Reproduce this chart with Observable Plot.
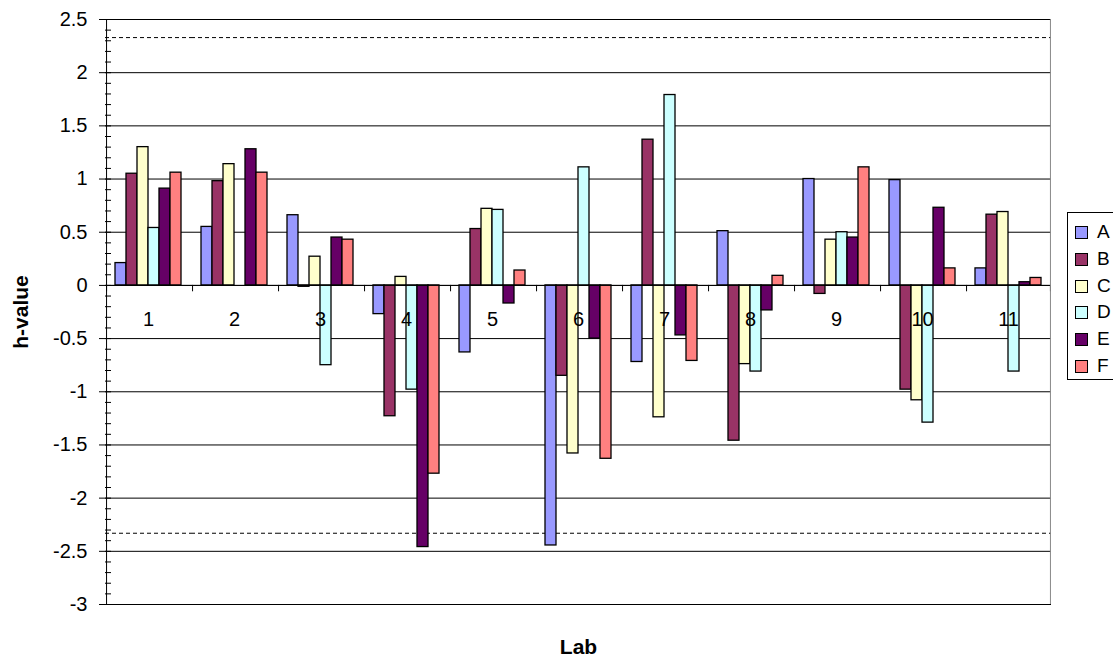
<!DOCTYPE html>
<html>
<head>
<meta charset="utf-8">
<script src="https://cdn.jsdelivr.net/npm/d3@7"></script>
<script src="https://cdn.jsdelivr.net/npm/@observablehq/plot@0.6"></script>
<style>
  html, body { margin: 0; padding: 0; background: #fff; }
  body { font-family: "Liberation Sans", Arial, sans-serif; }
  #wrap { position: relative; width: 1113px; height: 656px; overflow: hidden; }
  #legend { position: absolute; left: 1067px; top: 212px; width: 70px; height: 168px;
            border: 1px solid #000; background: #fff; box-sizing: border-box; }
  .item { position: absolute; left: 7px; height: 22px; display: flex; align-items: center;
          font-size: 19px; color: #000; }
  .sw { width: 11px; height: 11px; border: 1px solid #000; margin-right: 9px; box-sizing: content-box; }
  svg [aria-label="y-axis label"], svg [aria-label="fx-axis label"] { font-weight: bold; font-size: 21px; }
</style>
</head>
<body>
<div id="wrap"></div>
<script>
// ---- data ----
const labs = [1, 2, 3, 4, 5, 6, 7, 8, 9, 10, 11];
const series = ["A", "B", "C", "D", "E", "F"];
const colors = ["#9999FF", "#993366", "#FFFFCC", "#CCFFFF", "#660066", "#FF8080"];
const valuesA = [0.21, 0.55, 0.66, -0.27, -0.63, -2.445, -0.72, 0.51, 1.00, 0.99, 0.16];
const valuesB = [1.05, 0.98, -0.013, -1.23, 0.53, -0.85, 1.37, -1.46, -0.08, -0.98, 0.665];
const valuesC = [1.30, 1.14, 0.27, 0.08, 0.72, -1.58, -1.24, -0.74, 0.43, -1.08, 0.69];
const valuesD = [0.54, null, -0.75, -0.98, 0.71, 1.11, 1.79, -0.81, 0.50, -1.29, -0.81];
const valuesE = [0.91, 1.28, 0.45, -2.46, -0.17, -0.50, -0.47, -0.235, 0.45, 0.73, 0.03];
const valuesF = [1.06, 1.06, 0.43, -1.77, 0.14, -1.63, -0.71, 0.09, 1.11, 0.16, 0.07];
const critical = [2.33, -2.33];
const yTicks = [-3, -2.5, -2, -1.5, -1, -0.5, 0, 0.5, 1, 1.5, 2, 2.5];
const yMinorTicks = [-3, -2.9, -2.8, -2.7, -2.6, -2.5, -2.4, -2.3, -2.2, -2.1, -2, -1.9, -1.8, -1.7, -1.6, -1.5,
  -1.4, -1.3, -1.2, -1.1, -1, -0.9, -0.8, -0.7, -0.6, -0.5, -0.4, -0.3, -0.2, -0.1, 0, 0.1, 0.2, 0.3, 0.4,
  0.5, 0.6, 0.7, 0.8, 0.9, 1, 1.1, 1.2, 1.3, 1.4, 1.5, 1.6, 1.7, 1.8, 1.9, 2, 2.1, 2.2, 2.3, 2.4, 2.5];

const allValues = [valuesA, valuesB, valuesC, valuesD, valuesE, valuesF];
const rows = [];
labs.forEach((lab, i) => series.forEach((s, j) => {
  const v = allValues[j][i];
  if (v != null) rows.push({lab, series: s, value: v});
}));

const edge = 14.45; // half gap + half bar (px) from first/last bar centre to category boundary

const chart = Plot.plot({
  width: 1113,
  height: 656,
  marginLeft: 101,
  marginRight: 58,
  marginTop: 19,
  marginBottom: 52,
  style: {fontFamily: "'Liberation Sans', Arial, sans-serif", fontSize: "20px", background: "#fff", color: "#000"},
  fx: {domain: labs, padding: 0, axis: null},
  x: {domain: series, paddingInner: 0, paddingOuter: 0.75, axis: null},
  y: {domain: [-3, 2.5]},
  color: {domain: series, range: colors},
  marks: [
    Plot.ruleY(yTicks, {stroke: "#000", strokeWidth: 1}),
    Plot.ruleY(critical, {stroke: "#000", strokeWidth: 1, strokeDasharray: "4,3"}),
    Plot.barY(rows, {fx: "lab", x: "series", y: "value", fill: "series", stroke: "#000", strokeWidth: 1.3}),
    Plot.ruleY([0], {stroke: "#000", strokeWidth: 1}),
    // category boundary ticks below the zero line
    Plot.ruleX(labs, {fx: d => d, x: () => "A", dx: -edge, y1: () => 0, y2: () => -0.06, stroke: "#000"}),
    Plot.ruleX([11], {fx: d => d, x: () => "F", dx: edge, y1: () => 0, y2: () => -0.06, stroke: "#000"}),
    // value axis line and right border
    Plot.ruleX([1], {fx: d => d, x: () => "A", dx: -edge, stroke: "#000"}),
    Plot.ruleX([11], {fx: d => d, x: () => "F", dx: edge, stroke: "#888"}),
    // category labels
    Plot.text(labs, {fx: d => d, y: () => 0, text: d => String(d), dy: 34, lineAnchor: "middle", fontSize: 20, fill: "#000"}),
    Plot.axisY({ticks: yTicks, tickSize: 6, tickPadding: 12, tickFormat: d => String(d),
      label: "h-value", labelArrow: "none", labelAnchor: "center", labelOffset: 92, fontSize: 20}),
    Plot.axisY({ticks: yMinorTicks, tickSize: -6, tickFormat: () => "", label: null}),
    Plot.axisFx({anchor: "bottom", tickSize: 0, tickFormat: () => "", label: "Lab", labelArrow: "none", labelAnchor: "center", labelOffset: 49})
  ]
});
document.getElementById("wrap").appendChild(chart);

// legend
const legend = document.createElement("div");
legend.id = "legend";
const itemTops = [8, 35, 62, 88, 115, 142];
series.forEach((s, i) => {
  const it = document.createElement("div");
  it.className = "item";
  it.style.top = itemTops[i] + "px";
  const sw = document.createElement("span");
  sw.className = "sw";
  sw.style.background = colors[i];
  const t = document.createElement("span");
  t.textContent = s;
  it.appendChild(sw);
  it.appendChild(t);
  legend.appendChild(it);
});
document.getElementById("wrap").appendChild(legend);
</script>
</body>
</html>
